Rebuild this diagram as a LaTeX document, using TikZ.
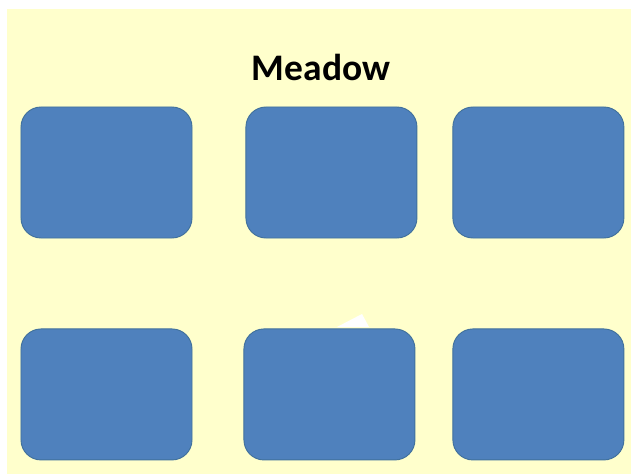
\documentclass[tikz,border=0pt]{standalone}
\usepackage{fontspec}
\setmainfont{Carlito}
\usepackage{tikz}
\usetikzlibrary{positioning}

\definecolor{meadowbg}{HTML}{FFFFCC}
\definecolor{plotfill}{HTML}{4F81BD}
\definecolor{plotline}{HTML}{41719C}

\begin{document}
\begin{tikzpicture}[x=0.03cm,y=-0.03cm,
  plot/.style={rectangle,rounded corners=0.6cm,draw=plotline,fill=plotfill,line width=0.8pt,minimum width=5.13cm,minimum height=3.93cm,inner sep=0pt},
  title/.style={font=\bfseries\fontsize{32}{36}\selectfont,inner sep=0pt}
]
\useasboundingbox (0,0) rectangle (631,474);
\fill[meadowbg] (7,9) rectangle (631,474);
\node[title] (meadow) at (321,67) {Meadow};
% the bit of white showing behind the middle lower plot
\fill[white] (337,327) -- (362,314) -- (369,327) -- cycle;
\node[plot] (p1) at (106.5,172.5) {};
\node[plot,right=1.59cm of p1] (p2) {};
\node[plot,right=1.05cm of p2] (p3) {};
\node[plot,below=2.7cm of p1] (p4) {};
\node[plot,right=1.53cm of p4] (p5) {};
\node[plot,right=1.11cm of p5] (p6) {};
\end{tikzpicture}
\end{document}
